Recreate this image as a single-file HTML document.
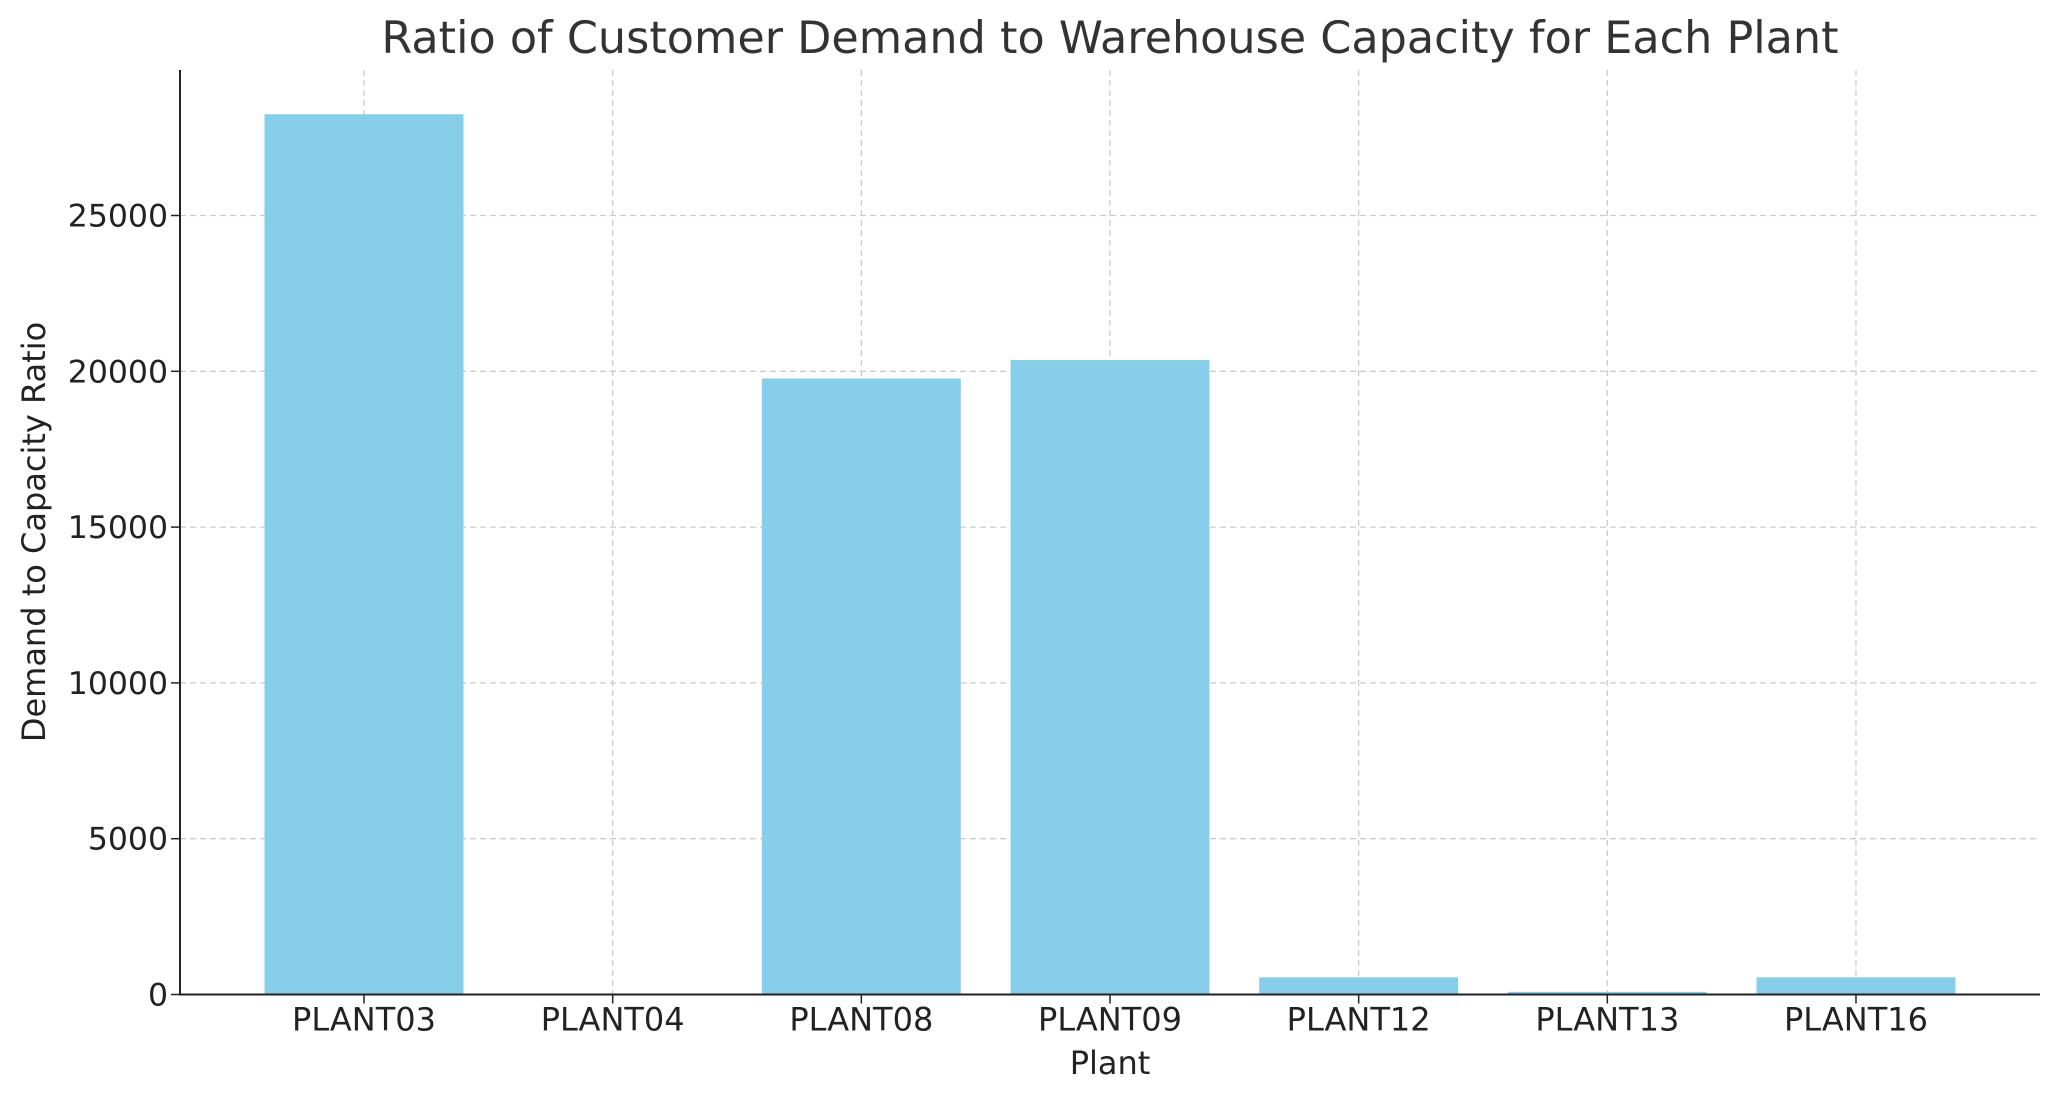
<!DOCTYPE html>
<html><head><meta charset="utf-8"><style>
html,body{margin:0;padding:0;background:#fff;}
svg{display:block;font-family:"DejaVu Sans","Liberation Sans",sans-serif;}
</style></head><body>
<svg id="chart" width="2060" height="1101" xmlns="http://www.w3.org/2000/svg">
<text x="1110" y="53" font-size="44.5" fill="#333" text-anchor="middle">Ratio of Customer Demand to Warehouse Capacity for Each Plant</text>
<g id="grid"></g><g id="bars"></g><g id="axes"></g>
<text x="1110" y="1074" font-size="32" fill="#222" text-anchor="middle">Plant</text>
<text transform="translate(45,532) rotate(-90)" font-size="32" fill="#222" text-anchor="middle">Demand to Capacity Ratio</text>
</svg>
<script>
const categories = ["PLANT03","PLANT04","PLANT08","PLANT09","PLANT12","PLANT13","PLANT16"];
const values = [28250, 0, 19770, 20360, 550, 85, 550];
const yTicks = [0, 5000, 10000, 15000, 20000, 25000];
const NS="http://www.w3.org/2000/svg";
const L=180,R=2040,T=70,B=994.5;
const yMax = 5000*(B-T)/155.8;
const pad=0.74;
const step=(R-L)/(categories.length-1+2*pad);
function xPos(i){return L+step*(i+pad);}
function yPos(v){return B-(v/yMax)*(B-T);}
function mk(tag,attrs,parent){const e=document.createElementNS(NS,tag);for(const k in attrs)e.setAttribute(k,attrs[k]);parent.appendChild(e);return e;}
const grid=document.getElementById('grid'),bars=document.getElementById('bars'),axes=document.getElementById('axes');
yTicks.forEach(t=>{
  const y=yPos(t);
  const g=mk('line',{x1:L,x2:R,y1:y,y2:y,stroke:'#ccc','stroke-width':1.3,'stroke-dasharray':'6,4'},grid);
  
  
  mk('line',{x1:L-9,x2:L,y1:y,y2:y,stroke:'#222','stroke-width':1.5},axes);
  const tx=mk('text',{x:L-12,y:y+11,'font-size':31.5,fill:'#222','text-anchor':'end'},axes);
  tx.textContent=t;
  
  
});
categories.forEach((c,i)=>{
  const x=xPos(i);
  const g=mk('line',{x1:x,x2:x,y1:T,y2:B,stroke:'#ccc','stroke-width':1.3,'stroke-dasharray':'6,4'},grid);
  
  
  const bw=step*0.8,y=yPos(values[i]);
  const r=mk('rect',{x:x-bw/2,y:y,width:bw,height:B-y,fill:'#87ceeb'},bars);
  
  
  mk('line',{x1:x,x2:x,y1:B,y2:B+9,stroke:'#222','stroke-width':1.5},axes);
  const tx=mk('text',{x:x,y:B+36,'font-size':32,fill:'#222','text-anchor':'middle'},axes);
  tx.textContent=c;
  
  
});
const ya=mk('line',{x1:L,x2:L,y1:T,y2:B+1,stroke:'#222','stroke-width':2},axes);


const xa=mk('line',{x1:L,x2:R,y1:B,y2:B,stroke:'#222','stroke-width':2},axes);


</script>
</body></html>
